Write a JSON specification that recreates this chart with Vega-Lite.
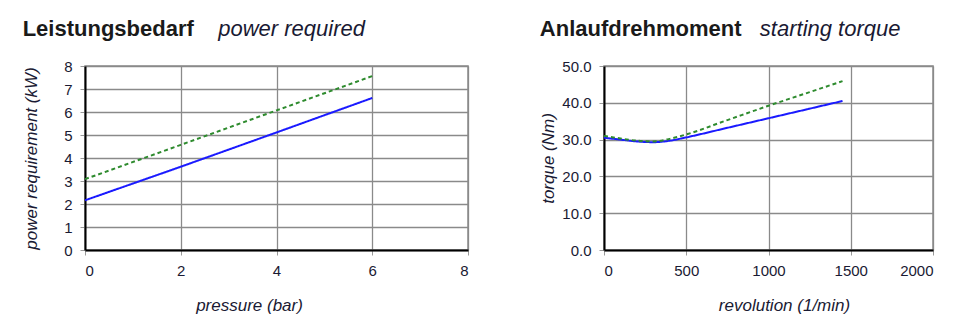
{
  "$schema": "https://vega.github.io/schema/vega-lite/v6.json",
  "background": "white",
  "padding": {"left": 21, "top": 17, "right": 4, "bottom": 4},
  "config": {
    "font": "Liberation Sans",
    "view": {"stroke": "#8a8a8a", "strokeWidth": 1.5},
    "axis": {
      "grid": true,
      "gridColor": "#8a8a8a",
      "gridWidth": 1.3,
      "domainColor": "#000000",
      "domainWidth": 2,
      "tickColor": "#999999",
      "tickSize": 5,
      "labelFont": "Liberation Sans",
      "labelFontSize": 15,
      "labelColor": "#1a1a33",
      "labelPadding": 8,
      "titleFont": "Liberation Sans",
      "titleFontSize": 17,
      "titleFontStyle": "italic",
      "titleFontWeight": "normal",
      "titleColor": "#1a1a33"
    },
    "title": {
      "font": "Liberation Sans",
      "fontSize": 22,
      "fontWeight": "bold",
      "color": "#1a1a1a",
      "anchor": "start",
      "frame": "bounds",
      "offset": 18,
      "subtitleFont": "Liberation Sans",
      "subtitleFontSize": 22,
      "subtitleFontStyle": "italic",
      "subtitleFontWeight": "normal",
      "subtitleColor": "#1a1a33",
      "subtitlePadding": -22
    },
    "concat": {"spacing": 69}
  },
  "hconcat": [
    {
      "width": 383,
      "height": 184,
      "title": {
        "text": "Leistungsbedarf",
        "subtitle": "\u200b\u00a0\u00a0\u00a0\u00a0\u00a0\u00a0\u00a0\u00a0\u00a0\u00a0\u00a0\u00a0\u00a0\u00a0\u00a0\u00a0\u00a0\u00a0\u00a0\u00a0\u00a0\u00a0\u00a0\u00a0\u00a0\u00a0\u00a0\u00a0\u00a0\u00a0\u00a0\u00a0power required"
      },
      "data": {
        "values": [
          {"pressure": 0, "power": 2.16, "series": "series 1"},
          {"pressure": 2, "power": 3.62, "series": "series 1"},
          {"pressure": 4, "power": 5.11, "series": "series 1"},
          {"pressure": 6, "power": 6.61, "series": "series 1"},
          {"pressure": 0, "power": 3.08, "series": "series 2"},
          {"pressure": 2, "power": 4.57, "series": "series 2"},
          {"pressure": 4, "power": 6.07, "series": "series 2"},
          {"pressure": 6, "power": 7.56, "series": "series 2"}
        ]
      },
      "mark": {"type": "line", "strokeWidth": 2},
      "encoding": {
        "x": {
          "field": "pressure",
          "type": "quantitative",
          "scale": {"domain": [0, 8], "nice": false},
          "axis": {"values": [0, 2, 4, 6, 8], "title": "pressure (bar)", "titleX": 164, "titlePadding": 19}
        },
        "y": {
          "field": "power",
          "type": "quantitative",
          "scale": {"domain": [0, 8], "nice": false},
          "axis": {"values": [0, 1, 2, 3, 4, 5, 6, 7, 8], "title": "power requirement (kW)", "titlePadding": 23}
        },
        "color": {
          "field": "series",
          "type": "nominal",
          "scale": {"domain": ["series 1", "series 2"], "range": ["#1a1aff", "#2e8b2e"]},
          "legend": null
        },
        "strokeDash": {
          "field": "series",
          "type": "nominal",
          "scale": {"domain": ["series 1", "series 2"], "range": [[1, 0], [4, 3]]},
          "legend": null
        }
      }
    },
    {
      "width": 329,
      "height": 184,
      "title": {
        "text": "Anlaufdrehmoment",
        "subtitle": "\u200b\u00a0\u00a0\u00a0\u00a0\u00a0\u00a0\u00a0\u00a0\u00a0\u00a0\u00a0\u00a0\u00a0\u00a0\u00a0\u00a0\u00a0\u00a0\u00a0\u00a0\u00a0\u00a0\u00a0\u00a0\u00a0\u00a0\u00a0\u00a0\u00a0\u00a0\u00a0\u00a0\u00a0\u00a0\u00a0\u00a0starting torque"
      },
      "data": {
        "values": [
          {"revolution": 0, "torque": 30.5, "series": "series 1"},
          {"revolution": 100, "torque": 30.0, "series": "series 1"},
          {"revolution": 200, "torque": 29.5, "series": "series 1"},
          {"revolution": 300, "torque": 29.3, "series": "series 1"},
          {"revolution": 400, "torque": 29.7, "series": "series 1"},
          {"revolution": 500, "torque": 30.6, "series": "series 1"},
          {"revolution": 750, "torque": 33.2, "series": "series 1"},
          {"revolution": 1000, "torque": 35.8, "series": "series 1"},
          {"revolution": 1250, "torque": 38.4, "series": "series 1"},
          {"revolution": 1450, "torque": 40.5, "series": "series 1"},
          {"revolution": 0, "torque": 31.0, "series": "series 2"},
          {"revolution": 100, "torque": 30.3, "series": "series 2"},
          {"revolution": 200, "torque": 29.7, "series": "series 2"},
          {"revolution": 300, "torque": 29.5, "series": "series 2"},
          {"revolution": 400, "torque": 30.2, "series": "series 2"},
          {"revolution": 500, "torque": 31.4, "series": "series 2"},
          {"revolution": 750, "torque": 35.3, "series": "series 2"},
          {"revolution": 1000, "torque": 39.2, "series": "series 2"},
          {"revolution": 1250, "torque": 42.9, "series": "series 2"},
          {"revolution": 1450, "torque": 45.9, "series": "series 2"}
        ]
      },
      "mark": {"type": "line", "strokeWidth": 2, "interpolate": "monotone"},
      "encoding": {
        "x": {
          "field": "revolution",
          "type": "quantitative",
          "scale": {"domain": [0, 2000], "nice": false},
          "axis": {"values": [0, 500, 1000, 1500, 2000], "format": "d", "title": "revolution (1/min)", "titleX": 180, "titlePadding": 19}
        },
        "y": {
          "field": "torque",
          "type": "quantitative",
          "scale": {"domain": [0, 50], "nice": false},
          "axis": {"values": [0, 10, 20, 30, 40, 50], "format": ".1f", "title": "torque (Nm)", "titlePadding": 4}
        },
        "color": {
          "field": "series",
          "type": "nominal",
          "scale": {"domain": ["series 1", "series 2"], "range": ["#1a1aff", "#2e8b2e"]},
          "legend": null
        },
        "strokeDash": {
          "field": "series",
          "type": "nominal",
          "scale": {"domain": ["series 1", "series 2"], "range": [[1, 0], [4, 3]]},
          "legend": null
        }
      }
    }
  ]
}
